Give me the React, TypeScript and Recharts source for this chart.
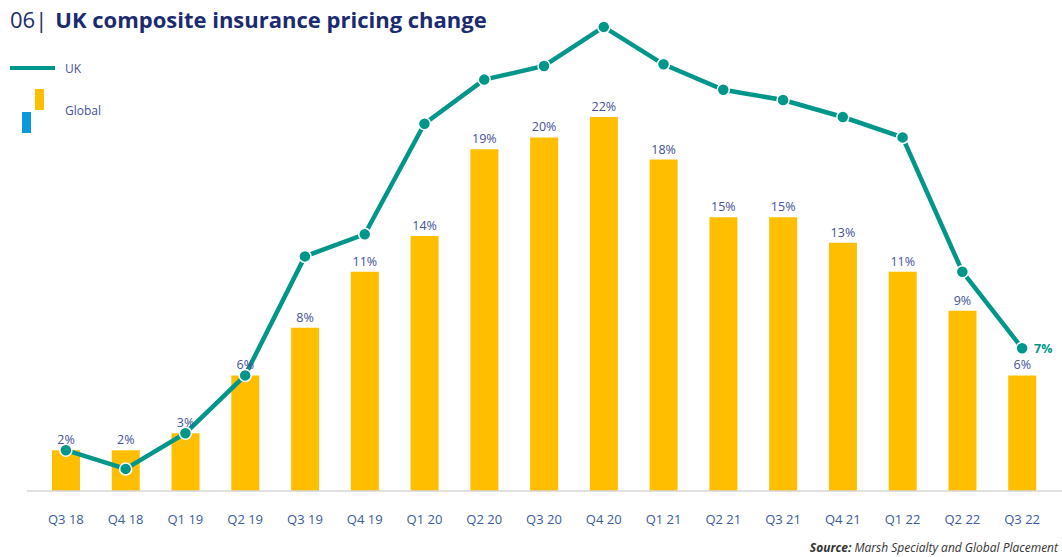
import { ComposedChart, Bar, Line, XAxis, YAxis, LabelList } from "recharts";

// quarters on the x axis
const quarters = [
  "Q3 18", "Q4 18", "Q1 19", "Q2 19", "Q3 19", "Q4 19", "Q1 20", "Q2 20", "Q3 20",
  "Q4 20", "Q1 21", "Q2 21", "Q3 21", "Q4 21", "Q1 22", "Q2 22", "Q3 22",
];

// Global pricing change (bar heights as drawn)
const globalValues = [2.4, 2.4, 3.4, 6.8, 9.6, 12.9, 15.0, 20.1, 20.8, 22.0, 19.5, 16.1, 16.1, 14.6, 12.9, 10.6, 6.8];
const globalLabels = ["2%", "2%", "3%", "6%", "8%", "11%", "14%", "19%", "20%", "22%", "18%", "15%", "15%", "13%", "11%", "9%", "6%"];

// UK pricing change (line)
const ukValues = [2.4, 1.3, 3.4, 6.8, 13.8, 15.1, 21.6, 24.2, 25.0, 27.3, 25.1, 23.6, 23.0, 22.0, 20.8, 12.9, 8.4];
const ukLabels = ["", "", "", "", "", "", "", "", "", "", "", "", "", "", "", "", "7%"];

const data = quarters.map((q, i) => ({
  q,
  global: globalValues[i],
  globalLabel: globalLabels[i],
  uk: ukValues[i],
  ukLabel: ukLabels[i] || undefined,
}));

const NAVY = "#1b2b6f";
const TEXT = "#44509a";
const TEAL = "#00968a";
const YELLOW = "#ffbf00";
const FONT = "'Open Sans', 'Noto Sans', sans-serif";

const QuarterTick = (props: any) => (
  <text x={props.x} y={props.y + 31} textAnchor="middle" fontSize={13} fill="#3b5aa0" fontFamily={FONT}>
    {props.payload.value}
  </text>
);

export default function App() {
  return (
    <div style={{ position: "absolute", left: 0, top: 0, width: 1062, height: 557, background: "#fff", fontFamily: FONT }}>
      <ComposedChart
        width={1062}
        height={557}
        data={data}
        margin={{ top: 15, right: 0, bottom: 36, left: 27 }}
        barCategoryGap={0}
      >
        <XAxis
          dataKey="q"
          height={30}
          padding={{ left: 9, right: 10 }}
          tickLine={false}
          tickSize={0}
          axisLine={{ stroke: "#d6d6d6", strokeWidth: 1.5 }}
          tick={<QuarterTick />}
          interval={0}
        />
        <YAxis hide domain={[0, 28]} />
        <Bar dataKey="global" fill={YELLOW} barSize={28} isAnimationActive={false}>
          <LabelList dataKey="globalLabel" position="top" offset={6} fill={TEXT} fontSize={12.5} fontFamily={FONT} />
        </Bar>
        <Line
          dataKey="uk"
          stroke={TEAL}
          strokeWidth={4.5}
          dot={{ r: 6, fill: TEAL, stroke: "#fff", strokeWidth: 1.5 }}
          isAnimationActive={false}
        >
          <LabelList dataKey="ukLabel" position="right" offset={12} fill={TEAL} fontSize={12.5} fontWeight={700} fontFamily={FONT} />
        </Line>
      </ComposedChart>

      <div style={{ position: "absolute", left: 10, top: 4, whiteSpace: "nowrap", color: NAVY, fontSize: 22, lineHeight: "30px" }}>
        <span style={{ fontWeight: 400 }}>06|</span>
        <span style={{ fontWeight: 700, marginLeft: 8 }}>UK composite insurance pricing change</span>
      </div>

      <svg style={{ position: "absolute", left: 0, top: 55 }} width={60} height={85}>
        <line x1={10} y1={13} x2={55} y2={13} stroke={TEAL} strokeWidth={4} />
        <rect x={35} y={34} width={9} height={21} fill={YELLOW} />
        <rect x={22} y={57} width={9} height={21} fill="#0a9ad9" />
      </svg>
      <div style={{ position: "absolute", left: 65, top: 60, fontSize: 12, color: TEXT }}>UK</div>
      <div style={{ position: "absolute", left: 65, top: 102, fontSize: 12, color: TEXT }}>Global</div>

      <div style={{ position: "absolute", right: 4, top: 539, fontSize: 12, fontStyle: "italic", color: "#333" }}>
        <span style={{ fontWeight: 700 }}>Source:</span> Marsh Specialty and Global Placement
      </div>
    </div>
  );
}
